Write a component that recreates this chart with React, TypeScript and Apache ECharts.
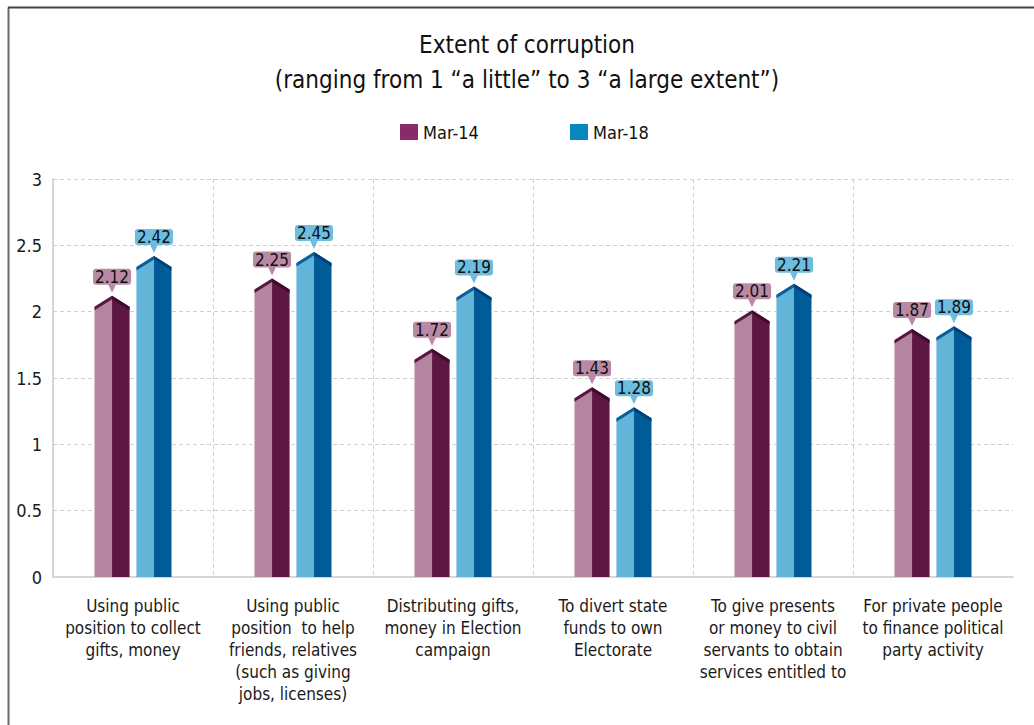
import React, { useEffect, useRef } from "react";
import * as echarts from "echarts";

const FONT = "'Liberation Sans Narrow', 'DejaVu Sans Condensed', 'Roboto Condensed', Roboto, sans-serif";

const categories = [
  "Using public\nposition to collect\ngifts, money",
  "Using public\nposition  to help\nfriends, relatives\n(such as giving\njobs, licenses)",
  "Distributing gifts,\nmoney in Election\ncampaign",
  "To divert state\nfunds to own\nElectorate",
  "To give presents\nor money to civil\nservants to obtain\nservices entitled to",
  "For private people\nto finance political\nparty activity",
];
const seriesNames = ["Mar-14", "Mar-18"];
const mar14 = [2.12, 2.25, 1.72, 1.43, 2.01, 1.87];
const mar18 = [2.42, 2.45, 2.19, 1.28, 2.21, 1.89];
const yTicks = [0, 0.5, 1, 1.5, 2, 2.5, 3];

const palettes = [
  { legend: "#8b2a6b", light: "#b5849f", dark: "#5e1742", bandL: "#5a1642", bandR: "#3e0b2d", box: "#b98aa6" },
  { legend: "#0a87bd", light: "#62b4d9", dark: "#005b97", bandL: "#0b5d9c", bandR: "#00417a", box: "#6cbde0" },
];

function makeRender(si: number) {
  const p = palettes[si];
  return (params: any, api: any) => {
    const ci = api.value(0);
    const v = api.value(1);
    const base = api.coord([ci, 0]);
    const top = api.coord([ci, v]);
    const bw = api.size([1, 0])[0];
    const w = bw * 0.219;
    const cx = base[0] + (si === 0 ? -1 : 1) * bw * 0.131;
    const x0 = cx - w / 2;
    const x1 = cx + w / 2;
    const yA = top[1];
    const yS = yA + 11;
    const yB = base[1];
    const t = 3.5;
    return {
      type: "group",
      children: [
        { type: "polygon", shape: { points: [[x0, yB], [x0, yS], [cx, yA], [cx, yB]] }, style: { fill: p.light } },
        { type: "polygon", shape: { points: [[cx, yB], [cx, yA], [x1, yS], [x1, yB]] }, style: { fill: p.dark } },
        { type: "polygon", shape: { points: [[x0, yS], [cx, yA], [cx, yA + t], [x0, yS + t]] }, style: { fill: p.bandL } },
        { type: "polygon", shape: { points: [[cx, yA], [x1, yS], [x1, yS + t], [cx, yA + t]] }, style: { fill: p.bandR } },
        { type: "polygon", shape: { points: [[cx - 4, yA - 11.5], [cx + 4, yA - 11.5], [cx, yA - 3]] }, style: { fill: p.box } },
        {
          type: "text",
          style: {
            text: v.toFixed(2),
            x: cx,
            y: yA - 19,
            align: "center",
            verticalAlign: "middle",
            fontSize: 17,
            fontFamily: FONT,
            fill: "#111",
            backgroundColor: p.box,
            borderRadius: 3,
            padding: [0, 2, 0, 2],
            lineHeight: 16,
          },
        },
      ],
    };
  };
}

export default function App() {
  const ref = useRef<HTMLDivElement>(null);
  useEffect(() => {
    if (!ref.current) return;
    const chart = echarts.init(ref.current, null, { renderer: "svg" });
    const data = [mar14, mar18];
    chart.setOption({
      animation: false,
      backgroundColor: "#ffffff",
      textStyle: { fontFamily: FONT },
      title: {
        text: "Extent of corruption\n(ranging from 1 \u201ca little\u201d to 3 \u201ca large extent\u201d)",
        left: 522,
        top: 22,
        textAlign: "center",
        textStyle: { fontSize: 24, fontWeight: "normal", color: "#111", lineHeight: 35, fontFamily: FONT },
      },
      legend: [
        {
          data: [seriesNames[0]], left: 395, top: 118, itemWidth: 18, itemHeight: 16, icon: "rect",
          textStyle: { fontSize: 18, color: "#111", fontFamily: FONT }, itemGap: 6,
        },
        {
          data: [seriesNames[1]], left: 565, top: 118, itemWidth: 18, itemHeight: 16, icon: "rect",
          textStyle: { fontSize: 18, color: "#111", fontFamily: FONT }, itemGap: 6,
        },
      ],
      graphic: [
        { type: "line", shape: { x1: 8.5, y1: 7.5, x2: 8.5, y2: 725 }, style: { stroke: "#6a6a6a", lineWidth: 2 } },
        { type: "line", shape: { x1: 8, y1: 7.5, x2: 1034, y2: 7.5 }, style: { stroke: "#444", lineWidth: 2 } },
      ],
      grid: { left: 53, right: 21, top: 179, bottom: 148 },
      xAxis: {
        type: "category",
        data: categories,
        axisLine: { show: true, lineStyle: { color: "#d6d6d6", width: 2 } },
        axisTick: { show: false },
        axisLabel: { fontSize: 17, lineHeight: 22, color: "#1a1a1a", margin: 18, fontFamily: FONT, interval: 0 },
        splitLine: { show: true, showMinLine: false, showMaxLine: false, lineStyle: { type: [4, 3], color: "#cfcfcf", width: 1 } },
      },
      yAxis: {
        type: "value",
        min: yTicks[0],
        max: yTicks[yTicks.length - 1],
        interval: 0.5,
        axisLine: { show: true, lineStyle: { color: "#d6d6d6", width: 2 } },
        axisTick: { show: false },
        axisLabel: { fontSize: 18, color: "#1a1a1a", margin: 11, fontFamily: FONT },
        splitLine: { show: true, lineStyle: { type: [4, 3], color: "#cfcfcf", width: 1 } },
      },
      series: seriesNames.map((name, si) => ({
        name,
        type: "custom",
        itemStyle: { color: palettes[si].legend },
        renderItem: makeRender(si),
        encode: { x: 0, y: 1 },
        data: data[si].map((v, i) => [i, v]),
        z: 3,
      })),
    });
    return () => chart.dispose();
  }, []);
  return <div ref={ref} style={{ position: "absolute", left: 0, top: 0, width: 1034, height: 725 }} />;
}
